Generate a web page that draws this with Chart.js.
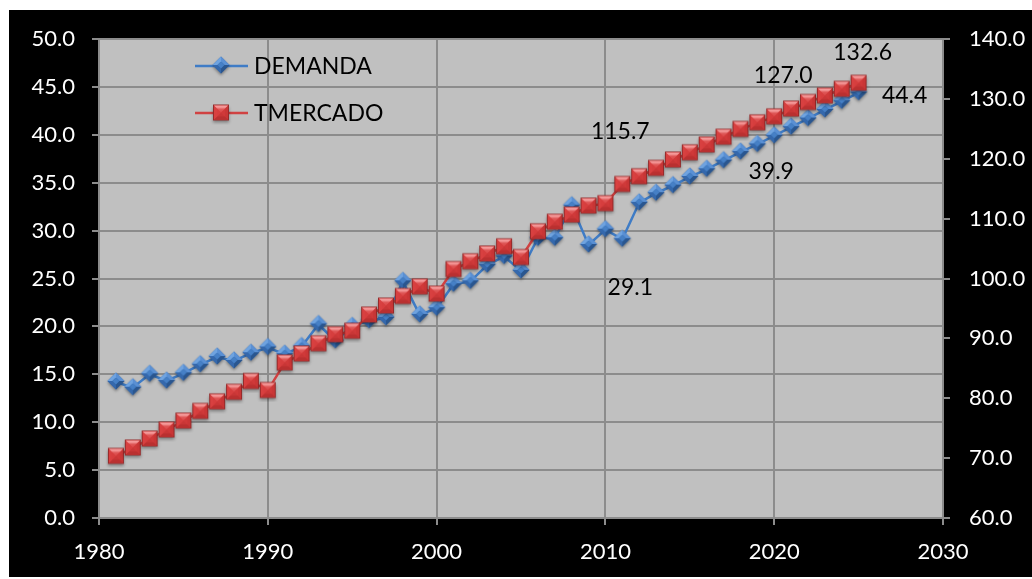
<!DOCTYPE html>
<html>
<head>
<meta charset="utf-8">
<script src="https://cdn.jsdelivr.net/npm/chart.js@4/dist/chart.umd.min.js"></script>
<style>
  html, body { margin: 0; padding: 0; background: #fff; }
  #chart-canvas { display: block; }
</style>
</head>
<body>
<canvas id="chart-canvas" width="1032" height="579"></canvas>
<script>
const years = [
  1981, 1982, 1983, 1984, 1985, 1986, 1987, 1988, 1989, 1990,
  1991, 1992, 1993, 1994, 1995, 1996, 1997, 1998, 1999, 2000,
  2001, 2002, 2003, 2004, 2005, 2006, 2007, 2008, 2009, 2010,
  2011, 2012, 2013, 2014, 2015, 2016, 2017, 2018, 2019, 2020,
  2021, 2022, 2023, 2024, 2025
]

const demanda = [
  14.2, 13.6, 15.0, 14.3, 15.1, 16.0, 16.8, 16.4, 17.2, 17.8,
  17.1, 17.9, 20.2, 18.5, 20.0, 20.6, 20.9, 24.7, 21.2, 21.9,
  24.4, 24.7, 26.4, 27.3, 25.8, 29.2, 29.2, 32.6, 28.5, 30.1,
  29.1, 32.9, 33.9, 34.7, 35.6, 36.4, 37.3, 38.2, 39.0, 39.9,
  40.8, 41.7, 42.6, 43.5, 44.4
]

const tmercado = [
  70.3, 71.7, 73.2, 74.7, 76.2, 77.8, 79.4, 81.0, 82.8, 81.3,
  85.9, 87.4, 89.1, 90.6, 91.2, 93.9, 95.4, 97.0, 98.6, 97.4,
  101.5, 102.8, 104.1, 105.3, 103.5, 107.8, 109.4, 110.6, 112.1, 112.5,
  115.7, 117.0, 118.4, 119.8, 121.0, 122.3, 123.6, 124.9, 126.0, 127.0,
  128.3, 129.4, 130.5, 131.6, 132.6
]

const seriesNames = ['DEMANDA', 'TMERCADO']
const labelledYears = [2011, 2020, 2025]

const FONT = 'Lato, "Open Sans", sans-serif'
const GRID = '#8c8c8c'

function facet (g, pts, col) {
  g.beginPath()
  g.moveTo(pts[0][0], pts[0][1])
  for (let i = 1; i < pts.length; i++) g.lineTo(pts[i][0], pts[i][1])
  g.closePath()
  g.fillStyle = col
  g.fill()
}

// bevelled marker images, like the office chart style
function diamondMarker () {
  const c = document.createElement('canvas')
  c.width = 24
  c.height = 24
  const g = c.getContext('2d')
  const cx = 12
  const cy = 11
  const r = 8.5
  g.save()
  g.shadowColor = 'rgba(0,0,0,0.35)'
  g.shadowBlur = 3
  g.shadowOffsetY = 2
  facet(g, [[cx, cy - r], [cx + r, cy], [cx, cy + r], [cx - r, cy]], '#2f5e9c')
  g.restore()
  const k = 3.5
  facet(g, [[cx, cy - r], [cx - r, cy], [cx - k, cy], [cx, cy - k]], '#6fa3e0')
  facet(g, [[cx, cy - r], [cx + r, cy], [cx + k, cy], [cx, cy - k]], '#5a90d4')
  facet(g, [[cx - r, cy], [cx, cy + r], [cx, cy + k], [cx - k, cy]], '#3568ac')
  facet(g, [[cx + r, cy], [cx, cy + r], [cx, cy + k], [cx + k, cy]], '#2a568f')
  facet(g, [[cx, cy - k], [cx + k, cy], [cx, cy + k], [cx - k, cy]], '#4680c6')
  return c
}

function squareMarker () {
  const c = document.createElement('canvas')
  c.width = 24
  c.height = 24
  const g = c.getContext('2d')
  const x0 = 4
  const y0 = 3.5
  const s = 16
  g.save()
  g.shadowColor = 'rgba(0,0,0,0.35)'
  g.shadowBlur = 3
  g.shadowOffsetY = 2
  g.fillStyle = '#952a2a'
  g.fillRect(x0, y0, s, s)
  g.restore()
  const a = x0 + 1
  const b = x0 + s - 1
  const t = y0 + 1
  const u = y0 + s - 1
  const m = x0 + s / 2
  const n = y0 + s / 2
  g.fillStyle = '#d63c3c'
  g.fillRect(a, t, s - 2, s - 2)
  // side and bottom shading
  facet(g, [[b, t], [b, u], [m, n]], '#c93636')
  facet(g, [[a, u], [b, u], [m, n]], '#b93030')
  facet(g, [[a, t], [a, u], [m, n]], '#d84040')
  // lighter upper triangle
  const grad = g.createLinearGradient(0, t, 0, n)
  grad.addColorStop(0, '#f7a4a4')
  grad.addColorStop(1, '#e25656')
  facet(g, [[a, t], [b, t], [m, n]], grad)
  g.fillStyle = 'rgba(214,60,60,0.55)'
  g.fillRect(a + 3, t + 3, s - 8, s - 8)
  return c
}

const markers = [diamondMarker(), squareMarker()]
const lineColors = ['#3f7cc6', '#d04242']

const backdrop = {
  id: 'backdrop',
  beforeDraw (chart) {
    const { ctx, chartArea } = chart
    ctx.save()
    ctx.fillStyle = '#ffffff'
    ctx.fillRect(0, 0, chart.width, chart.height)
    ctx.fillStyle = '#000000'
    ctx.fillRect(9, 10, chart.width - 9, chart.height - 12)
    ctx.fillStyle = '#c0c0c0'
    ctx.fillRect(chartArea.left, chartArea.top, chartArea.right - chartArea.left, chartArea.bottom - chartArea.top)
    ctx.restore()
  }
}

const innerLegend = {
  id: 'innerLegend',
  afterDraw (chart) {
    const { ctx } = chart
    ctx.save()
    ctx.font = '23px ' + FONT
    ctx.textBaseline = 'middle'
    seriesNames.forEach((name, i) => {
      const y = 66 + i * 47
      ctx.strokeStyle = lineColors[i]
      ctx.lineWidth = 2.5
      ctx.beginPath()
      ctx.moveTo(195, y)
      ctx.lineTo(248, y)
      ctx.stroke()
      const m = markers[i]
      ctx.drawImage(m, 221 - m.width / 2, y - m.height / 2)
      ctx.fillStyle = '#000000'
      ctx.fillText(name, 254, y + 1)
    })
    ctx.restore()
  }
}

// label offsets from the point, per series, per labelled year
const labelOffsets = [
  [[8, 48], [-3, 36], [46, 3]],
  [[-2, -53], [9, -41], [4, -31]]
]

const pointLabels = {
  id: 'pointLabels',
  afterDatasetsDraw (chart) {
    const { ctx } = chart
    ctx.save()
    ctx.font = '23px ' + FONT
    ctx.fillStyle = '#000000'
    ctx.textAlign = 'center'
    ctx.textBaseline = 'middle'
    chart.data.datasets.forEach((ds, di) => {
      const meta = chart.getDatasetMeta(di)
      labelledYears.forEach((yr, li) => {
        const idx = years.indexOf(yr)
        const pt = meta.data[idx]
        const off = labelOffsets[di][li]
        ctx.fillText(ds.data[idx].y.toFixed(1), pt.x + off[0], pt.y + off[1])
      })
    })
    ctx.restore()
  }
}

const tickFont = { family: FONT, size: 22 }

const ctx = document.getElementById('chart-canvas')
const chart = new Chart(ctx, {
  type: 'line',
  data: {
    datasets: [
      {
        label: seriesNames[0],
        data: years.map((x, i) => ({ x, y: demanda[i] })),
        yAxisID: 'y',
        borderColor: lineColors[0],
        borderWidth: 2.5,
        pointStyle: markers[0],
        pointRadius: 9,
        tension: 0,
        order: 2
      },
      {
        label: seriesNames[1],
        data: years.map((x, i) => ({ x, y: tmercado[i] })),
        yAxisID: 'y1',
        borderColor: lineColors[1],
        borderWidth: 2.5,
        pointStyle: markers[1],
        pointRadius: 9,
        tension: 0,
        order: 1
      }
    ]
  },
  options: {
    responsive: false,
    animation: false,
    devicePixelRatio: 1,
    layout: { padding: { left: 9, top: 39, right: 0, bottom: 0 } },
    plugins: {
      legend: { display: false },
      tooltip: { enabled: false }
    },
    scales: {
      x: {
        type: 'linear',
        min: 1980,
        max: 2030,
        afterFit (scale) { scale.height = 61 },
        ticks: {
          stepSize: 10,
          color: '#ffffff',
          font: tickFont,
          padding: 14,
          maxRotation: 0,
          callback: (v) => String(v)
        },
        grid: { color: GRID, lineWidth: 2, tickLength: 7, tickColor: GRID },
        border: { color: GRID, width: 2 }
      },
      y: {
        position: 'left',
        min: 0,
        max: 50,
        afterFit (scale) { scale.width = 90 },
        ticks: {
          stepSize: 5,
          color: '#ffffff',
          font: tickFont,
          padding: 17,
          callback: (v) => v.toFixed(1)
        },
        grid: { color: GRID, lineWidth: 2, tickLength: 7, tickColor: GRID },
        border: { color: GRID, width: 2 }
      },
      y1: {
        position: 'right',
        min: 60,
        max: 140,
        afterFit (scale) { scale.width = 89 },
        ticks: {
          stepSize: 10,
          color: '#ffffff',
          font: tickFont,
          padding: 19,
          callback: (v) => v.toFixed(1)
        },
        grid: { drawOnChartArea: false, color: GRID, lineWidth: 2, tickLength: 7, tickColor: GRID },
        border: { color: GRID, width: 2 }
      }
    }
  },
  plugins: [backdrop, innerLegend, pointLabels]
})
</script>
</body>
</html>
